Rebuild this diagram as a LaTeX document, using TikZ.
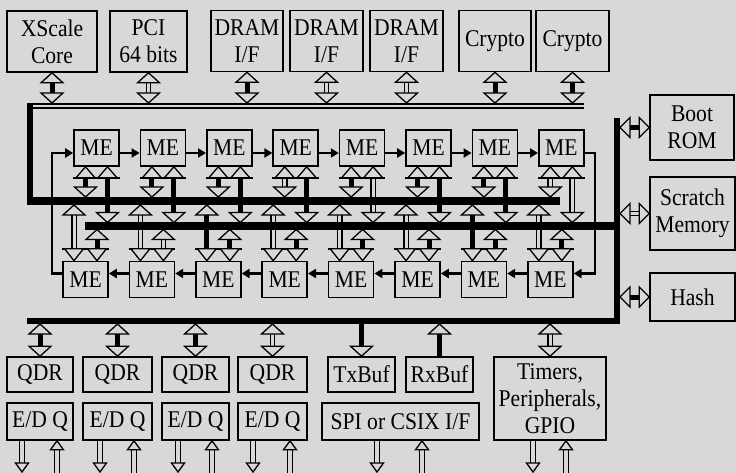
\documentclass[tikz,border=0pt]{standalone}
\usepackage{fontspec}
\setmainfont{Liberation Serif}
\newfontfamily\boxfont[FakeStretch=0.9]{Liberation Serif}
\usepackage{xcolor}
\usetikzlibrary{arrows.meta}
\definecolor{bg}{RGB}{216,216,216}
\tikzset{
  box/.style={draw, line width=1.6pt, fill=bg, inner sep=0pt, align=center,
    font=\boxfont\fontsize{24}{27}\selectfont},
  me/.style={box, minimum width=45pt, minimum height=36pt},
  hd/.style={draw, fill=bg, line width=1.3pt, line join=miter},
  sol/.style={line width=5pt},
  dbl/.style={line width=1.4pt, double=bg, double distance=3pt},
  sdbl/.style={line width=1.2pt, double=bg, double distance=3.2pt},
  ring/.style={line width=2.2pt, line join=miter, -{Triangle[width=9pt,length=8pt]}},
  bar/.style={line width=2pt},
  uph/.pic={\path[hd] (-11,10) -- (0,0) -- (11,10) -- cycle;},
  dnh/.pic={\path[hd] (-11,-10) -- (0,0) -- (11,-10) -- cycle;},
  muh/.pic={\path[hd] (-9.5,11) -- (0,0) -- (9.5,11) -- cycle;},
  mdh/.pic={\path[hd] (-9.5,-12) -- (0,0) -- (9.5,-12) -- cycle;},
  suh/.pic={\path[hd] (-6.5,9) -- (0,0) -- (6.5,9) -- cycle;},
  sdh/.pic={\path[hd] (-6.5,-9) -- (0,0) -- (6.5,-9) -- cycle;},
  lh/.pic={\path[hd] (10,-10) -- (0,0) -- (10,10) -- cycle;},
  rh/.pic={\path[hd] (-10,-10) -- (0,0) -- (-10,10) -- cycle;},
}

\begin{document}
\begin{tikzpicture}[x=1pt, y=-1pt]
\useasboundingbox (0,0) rectangle (736,473);
\fill[bg] (0,0) rectangle (736,473);

% bus edges and loop columns
\coordinate (tbT) at (0,103);
\coordinate (aT) at (0,197);
\coordinate (aB) at (0,205);
\coordinate (bT) at (0,222.5);
\coordinate (bB) at (0,229.5);
\coordinate (rbE) at (620,0);
\coordinate (db) at (0,321);
\coordinate (dbB) at (0,324);
\coordinate (edge) at (0,473);
\coordinate (ll) at (52,0);
\coordinate (rl) at (595,0);

% Top units
\node[box, minimum width=90pt, minimum height=61pt] (xs) at (52,41.5) {XScale\\Core};
\node[box, minimum width=77pt, minimum height=61pt] (pci) at (148.5,41.5) {PCI\\64 bits};
\node[box, minimum width=72pt, minimum height=61pt] (dr1) at (247,41) {DRAM\\I/F};
\node[box, minimum width=73pt, minimum height=61pt] (dr2) at (326.5,41) {DRAM\\I/F};
\node[box, minimum width=73pt, minimum height=61pt] (dr3) at (406.5,41) {DRAM\\I/F};
\node[box, minimum width=72pt, minimum height=61pt] (cr1) at (495,41) {Crypto};
\node[box, minimum width=73pt, minimum height=61pt] (cr2) at (572.5,41) {Crypto};

\foreach \n/\s in {xs/sol, pci/dbl, dr1/sol, dr2/dbl, dr3/dbl, cr1/sol, cr2/sol} {
  \draw[\s, shorten <=10pt, shorten >=10pt] (\n.south) -- (\n.south |- tbT);
  \pic at (\n.south) {uph};
  \pic at (\n.south |- tbT) {dnh};
}

% Top bus and left riser
\draw[line width=1.8pt, double=bg, double distance=2pt] (27,106) -- (584,106);
\draw[line width=6pt] (30,103) -- (30,201);

% Microengines
\foreach \i in {1,...,8} {
  \node[me] (t\i) at ({96.5+66.4*(\i-1)},148) {ME};
  \node[me] (b\i) at ({85.5+66.4*(\i-1)},279.5) {ME};
  \coordinate (tl\i) at ([xshift=-11pt]t\i.south);
  \coordinate (tr\i) at ([xshift=11pt]t\i.south);
  \coordinate (bl\i) at ([xshift=-11.5pt]b\i.north);
  \coordinate (br\i) at ([xshift=11.5pt]b\i.north);
}

% ME ring
\foreach \i [evaluate=\i as \j using int(\i+1)] in {1,...,7} {
  \draw[ring] ([yshift=-5pt]t\i.east) -- ([yshift=-5pt]t\j.west);
  \draw[ring] ([yshift=6pt]b\j.west) -- ([yshift=6pt]b\i.east);
}
\coordinate (tin) at ([yshift=-5pt]t1.west);
\coordinate (bout) at ([yshift=6pt]b1.west);
\draw[ring] (bout) -| (tin -| ll) -- (tin);
\coordinate (tout) at ([yshift=-5pt]t8.east);
\coordinate (bin) at ([yshift=6pt]b8.east);
\draw[ring] (tout) -| (bin -| rl) -- (bin);

% ME port shafts
\foreach \i/\a/\b/\c/\d in {1/sol/sol/dbl/sol, 2/sol/sol/dbl/dbl, 3/sol/sol/sol/sol,
    4/dbl/sol/dbl/sol, 5/sol/dbl/dbl/sol, 6/sol/sol/dbl/sol, 7/sol/sol/sol/sol, 8/dbl/dbl/dbl/sol} {
  \draw[\a, shorten <=11pt, shorten >=9pt] (tl\i) -- (tl\i |- aT);
  \draw[\b, shorten <=11pt, shorten >=9pt] (tr\i) -- (tr\i |- bT);
  \draw[\c, shorten <=12pt, shorten >=9pt] (bl\i) -- (bl\i |- aB);
  \draw[\d, shorten <=12pt, shorten >=9pt] (br\i) -- (br\i |- bB);
}

% Internal buses
\draw[line width=8pt] (27,201) -- (560,201);
\draw[line width=7pt] (85,226) -- (620,226);
\draw[line width=6pt] (617,118) -- (617,324);
\draw[line width=6pt] (27,321) -- (620,321);

% ME port heads
\foreach \i in {1,...,8} {
  \draw[bar] ([yshift=-11pt]t\i.south west) -- ([yshift=-11pt]t\i.south east);
  \pic at (tl\i) {muh};
  \pic at (tr\i) {muh};
  \pic at (tl\i |- aT) {dnh};
  \pic at (tr\i |- bT) {dnh};
  \draw[bar] ([yshift=12pt]b\i.north west) -- ([yshift=12pt]b\i.north east);
  \pic at (bl\i) {mdh};
  \pic at (br\i) {mdh};
  \pic at (bl\i |- aB) {uph};
  \pic at (br\i |- bB) {uph};
}

% Right side units
\node[box, minimum width=84pt, minimum height=65pt] (boot) at (692,127.5) {Boot\\ROM};
\node[box, minimum width=85pt, minimum height=73pt] (scr) at (692.5,213.5) {Scratch\\Memory};
\node[box, minimum width=85pt, minimum height=48pt] (hash) at (692.5,297) {Hash};
\foreach \n/\s in {boot/sol, scr/dbl, hash/sol} {
  \draw[\s, shorten <=10pt, shorten >=10pt] (\n.west -| rbE) -- (\n.west);
  \pic at (\n.west -| rbE) {lh};
  \pic at (\n.west) {rh};
}

% Bottom units
\node[box, minimum width=66pt, minimum height=35pt] (q1) at (40,374.5) {QDR};
\node[box, minimum width=69pt, minimum height=35pt] (q2) at (117.5,374.5) {QDR};
\node[box, minimum width=67pt, minimum height=35pt] (q3) at (195.5,374.5) {QDR};
\node[box, minimum width=69pt, minimum height=35pt] (q4) at (272.5,374.5) {QDR};
\node[box, minimum width=66pt, minimum height=37pt] (ed1) at (40,421.5) {E/D Q};
\node[box, minimum width=69pt, minimum height=37pt] (ed2) at (117.5,421.5) {E/D Q};
\node[box, minimum width=67pt, minimum height=37pt] (ed3) at (195.5,421.5) {E/D Q};
\node[box, minimum width=69pt, minimum height=37pt] (ed4) at (272.5,421.5) {E/D Q};
\node[box, minimum width=67pt, minimum height=35pt] (tx) at (361.5,374.5) {TxBuf};
\node[box, minimum width=67pt, minimum height=35pt] (rx) at (439.5,374.5) {RxBuf};
\node[box, minimum width=157pt, minimum height=37pt] (spi) at (400.5,421.5) {SPI or CSIX I/F};
\node[box, minimum width=112pt, minimum height=83pt] (tim) at (550,398.5) {Timers,\\Peripherals,\\GPIO};

\foreach \n/\s in {q1/sol, q2/sol, q3/sol, q4/dbl, tim/dbl} {
  \draw[\s, shorten <=10pt, shorten >=10pt] (\n.north |- dbB) -- (\n.north);
  \pic at (\n.north |- dbB) {uph};
  \pic at (\n.north) {dnh};
}
\draw[sol, shorten >=10pt] (tx.north |- db) -- (tx.north);
\pic at (tx.north) {dnh};
\draw[sol, shorten >=10pt] (rx.north) -- (rx.north |- dbB);
\pic at (rx.north |- dbB) {uph};

% External pins
\foreach \n/\dl/\ur in {ed1/-18/17, ed2/-17.5/16.5, ed3/-17.5/16.5, ed4/-19.5/17.5,
    spi/-23.5/21.5, tim/-17/16} {
  \coordinate (d\n) at ([xshift=\dl]\n.south);
  \coordinate (u\n) at ([xshift=\ur]\n.south);
  \draw[sdbl, shorten >=9pt] (d\n) -- ([yshift=1pt]d\n |- edge);
  \pic at ([yshift=1pt]d\n |- edge) {sdh};
  \draw[sdbl, shorten >=9pt] (u\n |- edge) -- (u\n);
  \pic at (u\n) {suh};
}
\end{tikzpicture}
\end{document}
